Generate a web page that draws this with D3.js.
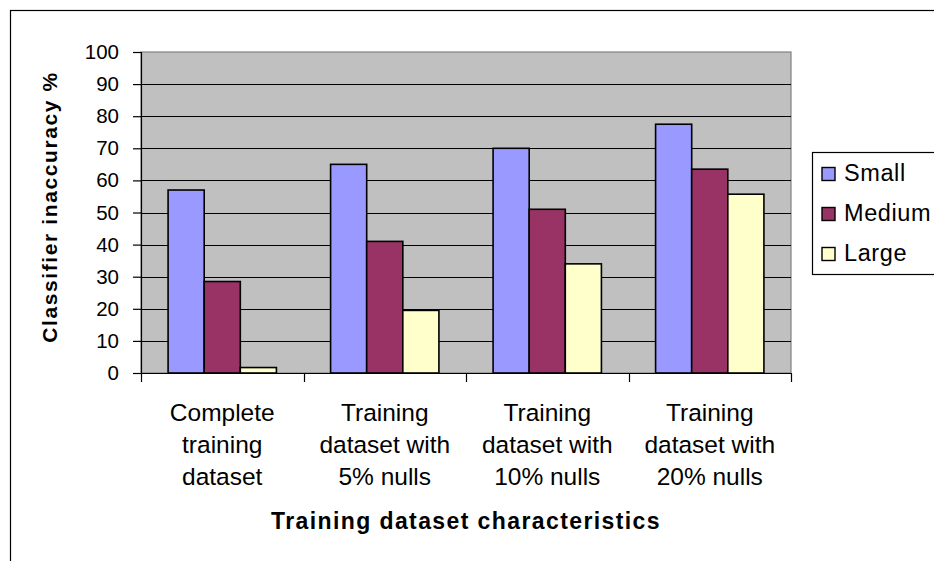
<!DOCTYPE html>
<html>
<head>
<meta charset="utf-8">
<script src="https://cdn.jsdelivr.net/npm/d3@7"></script>
<style>
  html, body { margin: 0; padding: 0; background: #ffffff; }
  svg { display: block; font-family: "Liberation Sans", Arial, sans-serif; }
</style>
</head>
<body>
<svg id="chart" width="934" height="561"></svg>
<script>
// Category labels (each entry is split into lines under the axis)
const categories = [
  ["Complete", "training", "dataset"],
  ["Training", "dataset with", "5% nulls"],
  ["Training", "dataset with", "10% nulls"],
  ["Training", "dataset with", "20% nulls"]
];
const seriesNames = ["Small", "Medium", "Large"];
const smallValues  = [57, 65, 70, 77.5];
const mediumValues = [28.5, 41, 51, 63.5];
const largeValues  = [1.7, 19.5, 34, 55.7];
const yTicks = [0, 10, 20, 30, 40, 50, 60, 70, 80, 90, 100];
const seriesColors = ["#9999FF", "#993366", "#FFFFCC"];
const yTitle = "Classifier inaccuracy %";
const xTitle = "Training dataset characteristics";

const seriesValues = [smallValues, mediumValues, largeValues];

const svg = d3.select("#chart");
const W = 934, H = 561;

// Outer chart frame (right and bottom edges fall outside the canvas)
svg.append("rect")
  .attr("x", 10.5).attr("y", 10.5)
  .attr("width", W + 20).attr("height", H + 20)
  .attr("fill", "#ffffff").attr("stroke", "#000").attr("stroke-width", 1.2);

const plot = { left: 141, right: 791, top: 52, bottom: 373 };

const x0 = d3.scaleBand()
  .domain(d3.range(categories.length))
  .range([plot.left, plot.right])
  .paddingInner(0).paddingOuter(0);

const x1 = d3.scaleBand()
  .domain(d3.range(seriesNames.length))
  .range([0, x0.bandwidth()])
  .paddingInner(0).paddingOuter(0.75);

const y = d3.scaleLinear().domain([0, 100]).range([plot.bottom, plot.top]);

// Plot area background
svg.append("rect")
  .attr("x", plot.left).attr("y", plot.top)
  .attr("width", plot.right - plot.left).attr("height", plot.bottom - plot.top)
  .attr("fill", "#C0C0C0")
  .attr("stroke", "#808080").attr("stroke-width", 1.2);

// Horizontal gridlines
svg.append("g").selectAll("line")
  .data(yTicks.filter(t => t > 0 && t < 100))
  .join("line")
  .attr("x1", plot.left).attr("x2", plot.right)
  .attr("y1", d => Math.round(y(d)) + 0.5).attr("y2", d => Math.round(y(d)) + 0.5)
  .attr("stroke", "#000").attr("stroke-width", 1);

// Bars
const groups = svg.append("g").selectAll("g")
  .data(categories.map((c, i) => i))
  .join("g")
  .attr("transform", i => `translate(${x0(i)},0)`);

groups.selectAll("rect")
  .data(i => seriesValues.map((vals, s) => ({ s, v: vals[i] })))
  .join("rect")
  .attr("x", d => x1(d.s))
  .attr("y", d => y(d.v))
  .attr("width", x1.bandwidth())
  .attr("height", d => y(0) - y(d.v))
  .attr("fill", d => seriesColors[d.s])
  .attr("stroke", "#000").attr("stroke-width", 1.6);

// Y axis
const yAxis = d3.axisLeft(y).tickValues(yTicks).tickSize(8).tickPadding(14);
const gy = svg.append("g").attr("transform", `translate(${plot.left},0)`).call(yAxis);
gy.select(".domain").attr("stroke", "#000").attr("stroke-width", 1.2);
gy.selectAll(".tick line").attr("stroke", "#000").attr("stroke-width", 1.2);
gy.selectAll(".tick text")
  .attr("font-size", 20.5).attr("fill", "#000")
  .attr("font-family", "'Liberation Sans', Arial, sans-serif");

// X axis: ticks on category boundaries
const boundaries = d3.range(categories.length + 1).map(i => plot.left + i * x0.step());
svg.append("line")
  .attr("x1", plot.left).attr("x2", plot.right)
  .attr("y1", plot.bottom + 0.5).attr("y2", plot.bottom + 0.5)
  .attr("stroke", "#000").attr("stroke-width", 1.2);
svg.append("g").selectAll("line")
  .data(boundaries)
  .join("line")
  .attr("x1", d => Math.round(d) + 0.5).attr("x2", d => Math.round(d) + 0.5)
  .attr("y1", plot.bottom).attr("y2", plot.bottom + 9)
  .attr("stroke", "#000").attr("stroke-width", 1.2);

// Category labels
const catLabels = svg.append("g").selectAll("text")
  .data(categories.map((lines, i) => ({ lines, i })))
  .join("text")
  .attr("text-anchor", "middle")
  .attr("font-size", 24.5)
  .attr("fill", "#000");
catLabels.selectAll("tspan")
  .data(d => d.lines.map(t => ({ t, i: d.i })))
  .join("tspan")
  .attr("x", d => x0(d.i) + x0.bandwidth() / 2)
  .attr("y", (d, k) => 421 + k * 32)
  .text(d => d.t);

// Axis titles
svg.append("text")
  .attr("x", (plot.left + plot.right) / 2).attr("y", 529)
  .attr("text-anchor", "middle")
  .attr("font-size", 23).attr("font-weight", "bold")
  .attr("letter-spacing", 1.4)
  .text(xTitle);

svg.append("text")
  .attr("transform", `translate(57,207) rotate(-90)`)
  .attr("text-anchor", "middle")
  .attr("font-size", 21).attr("font-weight", "bold")
  .attr("letter-spacing", 1.6)
  .text(yTitle);

// Legend
const legend = svg.append("g");
legend.append("rect")
  .attr("x", 812.5).attr("y", 152.5)
  .attr("width", 200).attr("height", 122)
  .attr("fill", "#ffffff").attr("stroke", "#000").attr("stroke-width", 1.2);
const items = legend.selectAll("g.item")
  .data(seriesNames.map((n, s) => ({ n, s })))
  .join("g").attr("class", "item")
  .attr("transform", d => `translate(0,${174 + d.s * 40})`);
items.append("rect")
  .attr("x", 822).attr("y", -6.5)
  .attr("width", 13).attr("height", 13)
  .attr("fill", d => seriesColors[d.s])
  .attr("stroke", "#000").attr("stroke-width", 1.4);
items.append("text")
  .attr("x", 844).attr("y", 6.5)
  .attr("font-size", 23.5).attr("letter-spacing", 0.6)
  .attr("fill", "#000")
  .text(d => d.n);
</script>
</body>
</html>
